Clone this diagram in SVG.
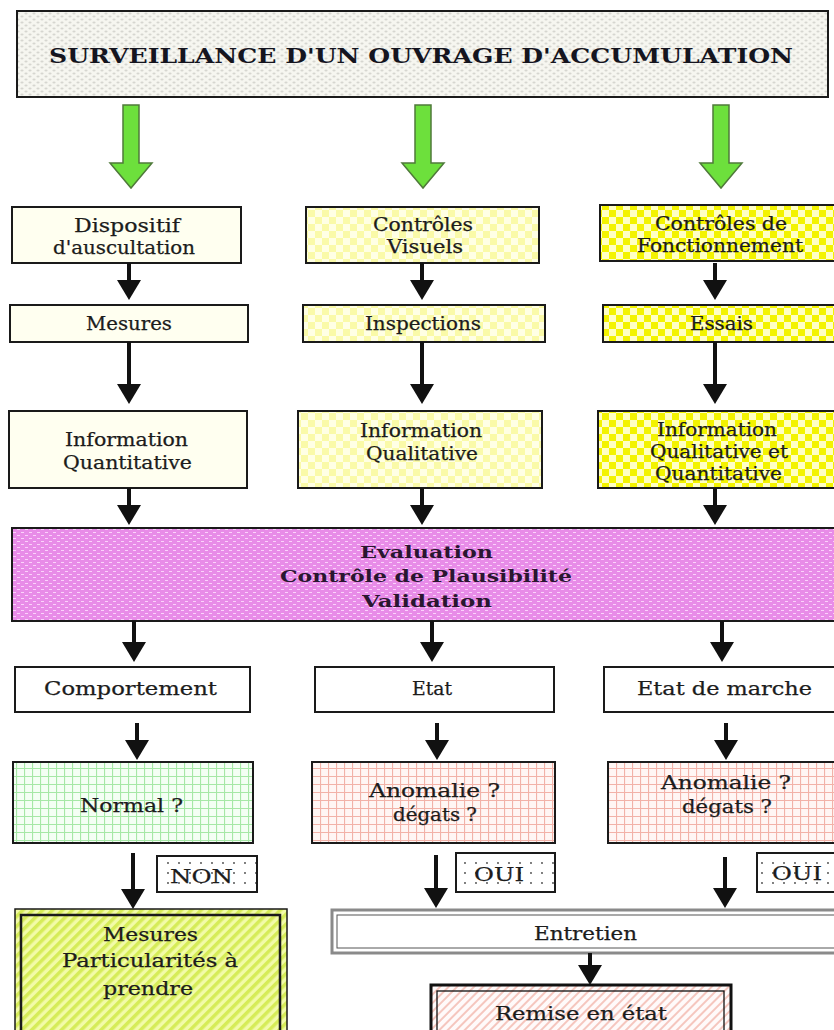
<svg xmlns="http://www.w3.org/2000/svg" width="834" height="1030" viewBox="0 0 834 1030">
<style>
.t{font-family:"DejaVu Serif","Liberation Serif",serif;font-size:18px;fill:#1c1c1c;stroke:#1c1c1c;stroke-width:0.25}
.title{font-family:"DejaVu Serif","Liberation Serif",serif;font-size:21px;font-weight:bold;fill:#15151f}
.ev{font-family:"DejaVu Serif","Liberation Serif",serif;font-size:16px;font-weight:bold;fill:#2a1630}
.box{stroke:#1a1a1a;stroke-width:2}
.conn{stroke:#111;stroke-width:4;fill:none}
.garrow{fill:#6de03c;stroke:#4f7a3a;stroke-width:1.5}
</style>
<defs>
<marker id="ah" markerUnits="userSpaceOnUse" viewBox="0 0 20 24" refX="10" refY="12" markerWidth="20" markerHeight="24" orient="auto">
<path d="M0,0 L20,12 L0,24 Z" fill="#111"/>
</marker>
<path id="greenArrow" class="garrow" d="M-8,0 H8 V58 H21 L0,83 L-21,58 H-8 Z"/>
<pattern id="pTop" patternUnits="userSpaceOnUse" width="8" height="6">
<rect width="8" height="6" fill="#f6f6f0"/>
<ellipse cx="2" cy="1.5" rx="1.6" ry="0.9" fill="#d6d6d0"/>
<ellipse cx="6" cy="4.5" rx="1.6" ry="0.9" fill="#d6d6d0"/>
</pattern>
<pattern id="pChkLight" patternUnits="userSpaceOnUse" width="14" height="14">
<rect width="14" height="14" fill="#ffffe4"/>
<rect width="7" height="7" fill="#fafaa8"/>
<rect x="7" y="7" width="7" height="7" fill="#fafaa8"/>
</pattern>
<pattern id="pChkBright" patternUnits="userSpaceOnUse" width="14" height="14">
<rect width="14" height="14" fill="#f3f300"/>
<rect width="7" height="7" fill="#ffffc4"/>
<rect x="7" y="7" width="7" height="7" fill="#ffffc4"/>
</pattern>
<pattern id="pEval" patternUnits="userSpaceOnUse" width="8" height="6">
<rect width="8" height="6" fill="#e88ce8"/>
<line x1="1" y1="1.5" x2="4" y2="1.5" stroke="#fbd2fb" stroke-width="1"/>
<line x1="5" y1="4.5" x2="8" y2="4.5" stroke="#fbd2fb" stroke-width="1"/>
</pattern>
<pattern id="pGreenGrid" patternUnits="userSpaceOnUse" width="8" height="8">
<rect width="8" height="8" fill="#f4fff4"/>
<path d="M0,0 H8 M0,0 V8" stroke="#a6e8a6" stroke-width="2.2"/>
</pattern>
<pattern id="pPinkGrid" patternUnits="userSpaceOnUse" width="8" height="8">
<rect width="8" height="8" fill="#fff6f4"/>
<path d="M0,0 H8 M0,0 V8" stroke="#f2b2a8" stroke-width="2.2"/>
</pattern>
<pattern id="pDots" patternUnits="userSpaceOnUse" width="11" height="10">
<rect width="11" height="10" fill="#ffffff"/>
<circle cx="3" cy="3" r="0.9" fill="#444"/>
</pattern>
<pattern id="pYgStripe" patternUnits="userSpaceOnUse" width="7" height="7" patternTransform="rotate(45)">
<rect width="7" height="7" fill="#f2fba8"/>
<rect width="3.5" height="7" fill="#d6ec58"/>
</pattern>
<pattern id="pPinkStripe" patternUnits="userSpaceOnUse" width="6" height="6" patternTransform="rotate(45)">
<rect width="6" height="6" fill="#fffafa"/>
<rect width="2" height="6" fill="#f5c6be"/>
</pattern>
</defs>
<rect width="834" height="1030" fill="#ffffff"/>

<g id="title">
<rect class="box" x="17" y="11" width="811" height="86" fill="url(#pTop)" stroke="#333"/>
<text class="title" x="49" y="63" textLength="744" lengthAdjust="spacingAndGlyphs">SURVEILLANCE  D'UN  OUVRAGE D'ACCUMULATION</text>
</g>

<g id="dispositif">
<rect class="box" x="12" y="207" width="229" height="56" fill="#fffff0"/>
<text class="t" x="74" y="232" textLength="106" lengthAdjust="spacingAndGlyphs">Dispositif</text>
<text class="t" x="53" y="254" textLength="142" lengthAdjust="spacingAndGlyphs">d'auscultation</text>
</g>
<g id="mesures">
<rect class="box" x="10" y="305" width="238" height="37" fill="#fffff0"/>
<text class="t" x="86" y="330" textLength="86" lengthAdjust="spacingAndGlyphs">Mesures</text>
</g>
<g id="info-quant">
<rect class="box" x="9" y="411" width="238" height="77" fill="#fffff0"/>
<text class="t" x="65" y="446" textLength="123" lengthAdjust="spacingAndGlyphs">Information</text>
<text class="t" x="63" y="469" textLength="129" lengthAdjust="spacingAndGlyphs">Quantitative</text>
</g>

<g id="controles-visuels">
<rect class="box" x="306" y="207" width="233" height="56" fill="url(#pChkLight)"/>
<text class="t" x="373" y="231" textLength="100" lengthAdjust="spacingAndGlyphs">Contrôles</text>
<text class="t" x="387" y="253" textLength="76" lengthAdjust="spacingAndGlyphs">Visuels</text>
</g>
<g id="inspections">
<rect class="box" x="303" y="305" width="242" height="37" fill="url(#pChkLight)"/>
<text class="t" x="365" y="330" textLength="116" lengthAdjust="spacingAndGlyphs">Inspections</text>
</g>
<g id="info-qual">
<rect class="box" x="298" y="411" width="244" height="77" fill="url(#pChkLight)"/>
<text class="t" x="360" y="437" textLength="122" lengthAdjust="spacingAndGlyphs">Information</text>
<text class="t" x="366" y="460" textLength="112" lengthAdjust="spacingAndGlyphs">Qualitative</text>
</g>

<g id="controles-fonct">
<rect class="box" x="600" y="205" width="245" height="56" fill="url(#pChkBright)"/>
<text class="t" x="655" y="230" textLength="132" lengthAdjust="spacingAndGlyphs">Contrôles de</text>
<text class="t" x="637" y="252" textLength="166" lengthAdjust="spacingAndGlyphs">Fonctionnement</text>
</g>
<g id="essais">
<rect class="box" x="603" y="305" width="242" height="37" fill="url(#pChkBright)"/>
<text class="t" x="690" y="330" textLength="63" lengthAdjust="spacingAndGlyphs">Essais</text>
</g>
<g id="info-qual-quant">
<rect class="box" x="598" y="411" width="247" height="77" fill="url(#pChkBright)"/>
<text class="t" x="657" y="436" textLength="120" lengthAdjust="spacingAndGlyphs">Information</text>
<text class="t" x="650" y="458" textLength="138" lengthAdjust="spacingAndGlyphs">Qualitative et</text>
<text class="t" x="655" y="480" textLength="127" lengthAdjust="spacingAndGlyphs">Quantitative</text>
</g>

<g id="evaluation">
<rect class="box" x="12" y="528" width="833" height="93" fill="url(#pEval)"/>
<text class="ev" x="360" y="558" textLength="133" lengthAdjust="spacingAndGlyphs">Evaluation</text>
<text class="ev" x="280" y="582" textLength="292" lengthAdjust="spacingAndGlyphs">Contrôle de Plausibilité</text>
<text class="ev" x="362" y="607" textLength="130" lengthAdjust="spacingAndGlyphs">Validation</text>
</g>

<g id="comportement">
<rect class="box" x="15" y="667" width="235" height="45" fill="#ffffff"/>
<text class="t" x="44" y="695" textLength="173" lengthAdjust="spacingAndGlyphs">Comportement</text>
</g>
<g id="etat">
<rect class="box" x="315" y="667" width="239" height="45" fill="#ffffff"/>
<text class="t" x="412" y="695" textLength="40" lengthAdjust="spacingAndGlyphs">Etat</text>
</g>
<g id="etat-marche">
<rect class="box" x="604" y="667" width="241" height="45" fill="#ffffff"/>
<text class="t" x="637" y="695" textLength="175" lengthAdjust="spacingAndGlyphs">Etat de marche</text>
</g>

<g id="normal">
<rect class="box" x="13" y="762" width="240" height="81" fill="url(#pGreenGrid)"/>
<text class="t" x="80" y="812" textLength="103" lengthAdjust="spacingAndGlyphs">Normal ?</text>
</g>
<g id="anomalie-etat">
<rect class="box" x="312" y="762" width="243" height="81" fill="url(#pPinkGrid)"/>
<text class="t" x="369" y="797" textLength="131" lengthAdjust="spacingAndGlyphs">Anomalie ?</text>
<text class="t" x="393" y="821" textLength="84" lengthAdjust="spacingAndGlyphs">dégats ?</text>
</g>
<g id="anomalie-marche">
<rect class="box" x="608" y="762" width="237" height="81" fill="url(#pPinkGrid)"/>
<text class="t" x="661" y="789" textLength="130" lengthAdjust="spacingAndGlyphs">Anomalie ?</text>
<text class="t" x="682" y="813" textLength="90" lengthAdjust="spacingAndGlyphs">dégats ?</text>
</g>

<g id="non">
<rect class="box" x="157" y="856" width="100" height="36" fill="url(#pDots)"/>
<text class="t" x="170" y="883" textLength="63" lengthAdjust="spacingAndGlyphs">NON</text>
</g>
<g id="oui-etat">
<rect class="box" x="456" y="853" width="99" height="39" fill="url(#pDots)"/>
<text class="t" x="474" y="881" textLength="50" lengthAdjust="spacingAndGlyphs">OUI</text>
</g>
<g id="oui-marche">
<rect class="box" x="757" y="853" width="93" height="39" fill="url(#pDots)"/>
<text class="t" x="772" y="880" textLength="50" lengthAdjust="spacingAndGlyphs">OUI</text>
</g>

<g id="mesures-particularites">
<rect x="15" y="909" width="272" height="135" fill="url(#pYgStripe)" stroke="#1a1a1a" stroke-width="1.5"/>
<rect x="21" y="915" width="259" height="125" fill="none" stroke="#1a1a1a" stroke-width="2.5"/>
<text class="t" x="103" y="941" textLength="95" lengthAdjust="spacingAndGlyphs">Mesures</text>
<text class="t" x="62" y="967" textLength="176" lengthAdjust="spacingAndGlyphs">Particularités  à</text>
<text class="t" x="103" y="995" textLength="90" lengthAdjust="spacingAndGlyphs">prendre</text>
</g>

<g id="entretien">
<rect x="332" y="910" width="520" height="43" fill="#ffffff" stroke="#8a8a8a" stroke-width="3"/>
<rect x="337" y="915" width="520" height="33" fill="none" stroke="#555" stroke-width="1"/>
<text class="t" x="534" y="940" textLength="103" lengthAdjust="spacingAndGlyphs">Entretien</text>
</g>

<g id="remise-en-etat">
<rect x="431" y="985" width="300" height="60" fill="url(#pPinkStripe)" stroke="#111" stroke-width="3"/>
<rect x="437" y="991" width="287" height="50" fill="none" stroke="#111" stroke-width="1.3"/>
<text class="t" x="495" y="1020" textLength="172" lengthAdjust="spacingAndGlyphs">Remise en état</text>
</g>

<g id="connectors">
<use href="#greenArrow" x="131" y="105"/>
<use href="#greenArrow" x="423" y="105"/>
<use href="#greenArrow" x="721" y="105"/>
<line class="conn" x1="129" y1="263" x2="129" y2="290" marker-end="url(#ah)"/>
<line class="conn" x1="129" y1="342" x2="129" y2="394" marker-end="url(#ah)"/>
<line class="conn" x1="129" y1="488" x2="129" y2="515" marker-end="url(#ah)"/>
<line class="conn" x1="422" y1="263" x2="422" y2="290" marker-end="url(#ah)"/>
<line class="conn" x1="422" y1="342" x2="422" y2="394" marker-end="url(#ah)"/>
<line class="conn" x1="422" y1="488" x2="422" y2="515" marker-end="url(#ah)"/>
<line class="conn" x1="715" y1="263" x2="715" y2="290" marker-end="url(#ah)"/>
<line class="conn" x1="715" y1="342" x2="715" y2="394" marker-end="url(#ah)"/>
<line class="conn" x1="715" y1="488" x2="715" y2="515" marker-end="url(#ah)"/>
<line class="conn" x1="134" y1="621" x2="134" y2="652" marker-end="url(#ah)"/>
<line class="conn" x1="432" y1="621" x2="432" y2="652" marker-end="url(#ah)"/>
<line class="conn" x1="722" y1="621" x2="722" y2="652" marker-end="url(#ah)"/>
<line class="conn" x1="137" y1="723" x2="137" y2="750" marker-end="url(#ah)"/>
<line class="conn" x1="437" y1="723" x2="437" y2="750" marker-end="url(#ah)"/>
<line class="conn" x1="726" y1="723" x2="726" y2="750" marker-end="url(#ah)"/>
<line class="conn" x1="133" y1="853" x2="133" y2="899" marker-end="url(#ah)"/>
<line class="conn" x1="436" y1="855" x2="436" y2="898" marker-end="url(#ah)"/>
<line class="conn" x1="725" y1="857" x2="725" y2="898" marker-end="url(#ah)"/>
<line class="conn" x1="590" y1="953" x2="590" y2="975" marker-end="url(#ah)"/>
</g>
</svg>
